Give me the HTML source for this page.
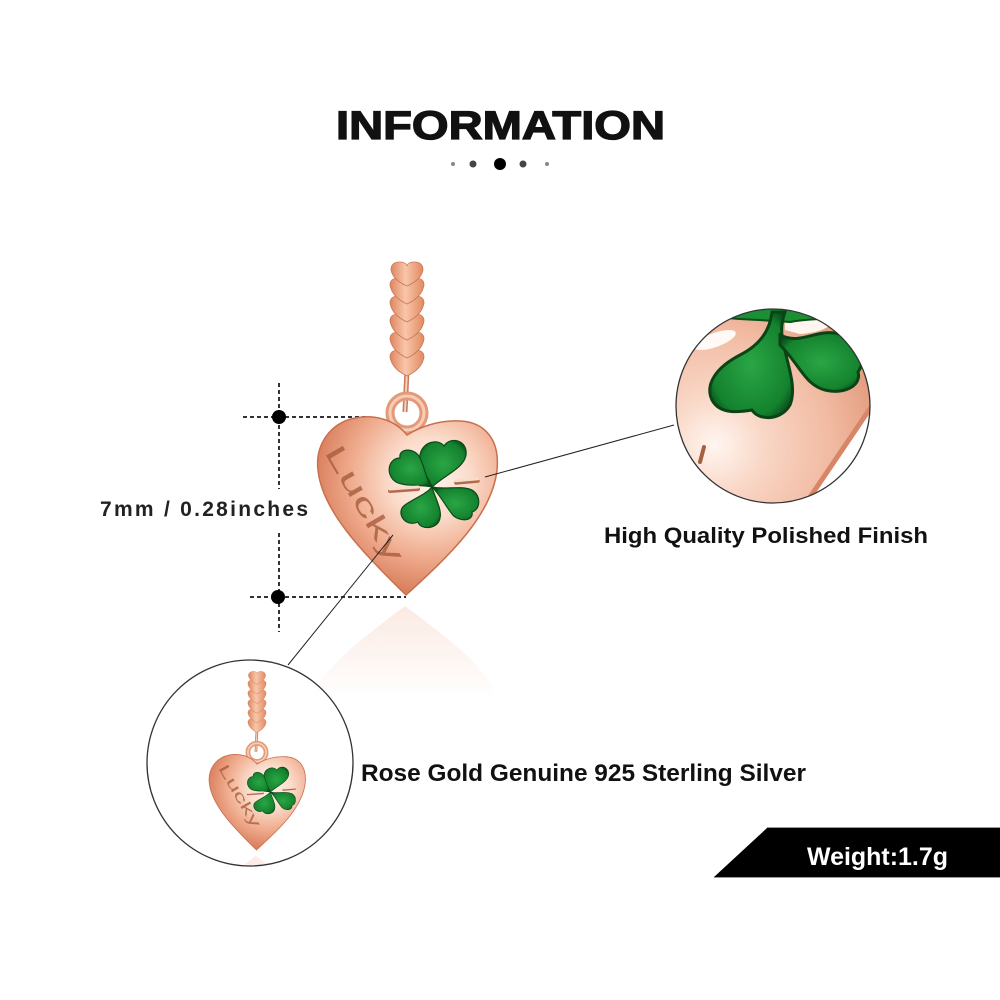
<!DOCTYPE html>
<html><head><meta charset="utf-8"><style>
html,body{margin:0;padding:0;background:#fff;}
svg{display:block;}
</style></head><body>
<svg width="1000" height="1000" viewBox="0 0 1000 1000" xmlns="http://www.w3.org/2000/svg">
<defs>
  <linearGradient id="bead" x1="0" x2="1" y1="0" y2="0">
    <stop offset="0" stop-color="#dd8660"/>
    <stop offset="0.45" stop-color="#f9c6aa"/>
    <stop offset="1" stop-color="#e28a62"/>
  </linearGradient>
  <radialGradient id="heartG" cx="430" cy="478" r="115" gradientUnits="userSpaceOnUse">
    <stop offset="0" stop-color="#fff4ee"/>
    <stop offset="0.35" stop-color="#fbdccb"/>
    <stop offset="0.7" stop-color="#efaa8c"/>
    <stop offset="1" stop-color="#d9805e"/>
  </radialGradient>
  <radialGradient id="leafG" cx="0.5" cy="0.5" r="0.6">
    <stop offset="0" stop-color="#2aa645"/>
    <stop offset="0.8" stop-color="#14822e"/>
    <stop offset="1" stop-color="#0a4f1a"/>
  </radialGradient>
  <linearGradient id="reflG" x1="0" y1="0" x2="0" y2="1">
    <stop offset="0" stop-color="#f3b8a0" stop-opacity="0.3"/>
    <stop offset="1" stop-color="#f3b8a0" stop-opacity="0"/>
  </linearGradient>
  <radialGradient id="zoomG" cx="715" cy="445" r="170" gradientUnits="userSpaceOnUse">
    <stop offset="0" stop-color="#fff6f0"/>
    <stop offset="0.3" stop-color="#f9d6c5"/>
    <stop offset="0.7" stop-color="#f1b9a0"/>
    <stop offset="1" stop-color="#e29a7c"/>
  </radialGradient>
  <clipPath id="clipR"><circle cx="773" cy="406" r="97"/></clipPath>
  <clipPath id="clipL"><circle cx="250" cy="763" r="103"/></clipPath>

  <g id="pendant">
    <path d="M405,606 C450,640 488,668 498,700 L312,700 C322,668 360,640 405,606 Z" fill="url(#reflG)"/>
    <line x1="407" y1="370" x2="405" y2="412" stroke="#c77a58" stroke-width="5"/>
    <line x1="407" y1="370" x2="405" y2="412" stroke="#f6d2c0" stroke-width="2"/>
    <circle cx="407" cy="413" r="17" fill="none" stroke="#e49a78" stroke-width="9"/>
    <circle cx="407" cy="413" r="17" fill="none" stroke="#f8cdb8" stroke-width="3"/>
    <path d="M390,357 Q390,350 399,350 Q406,350 407,355 Q408,350 415,350 Q424,350 424,357 Q422,369 407,376 Q392,369 390,357 Z" fill="url(#bead)" stroke="#c97a56" stroke-width="0.8"/>
    <path d="M390,339 Q390,332 399,332 Q406,332 407,337 Q408,332 415,332 Q424,332 424,339 Q422,351 407,358 Q392,351 390,339 Z" fill="url(#bead)" stroke="#c97a56" stroke-width="0.8"/>
    <path d="M390,321 Q390,314 399,314 Q406,314 407,319 Q408,314 415,314 Q424,314 424,321 Q422,333 407,340 Q392,333 390,321 Z" fill="url(#bead)" stroke="#c97a56" stroke-width="0.8"/>
    <path d="M390,303 Q390,296 399,296 Q406,296 407,301 Q408,296 415,296 Q424,296 424,303 Q422,315 407,322 Q392,315 390,303 Z" fill="url(#bead)" stroke="#c97a56" stroke-width="0.8"/>
    <path d="M390,285 Q390,278 399,278 Q406,278 407,283 Q408,278 415,278 Q424,278 424,285 Q422,297 407,304 Q392,297 390,285 Z" fill="url(#bead)" stroke="#c97a56" stroke-width="0.8"/>
    <path d="M391,270 Q391,262 400,262 Q406,262 407,266 Q408,262 414,262 Q423,262 423,270 Q421,280 407,286 Q393,280 391,270 Z" fill="url(#bead)" stroke="#c97a56" stroke-width="0.8"/>
    <path d="M407,435 C395,420 375,414 355,418 C330,423 315,445 318,470 C322,510 360,550 406,595 C450,555 492,515 497,470 C500,440 485,422 460,421 C437,420 418,428 407,435 Z" fill="url(#heartG)" stroke="#c8704e" stroke-width="1.5"/>
    <g fill="url(#leafG)" stroke="#0b4a18" stroke-width="1.2">
      <path d="M432,487 C428,475 418,468 420,455 C422,442 438,438 444,446 C450,436 468,440 466,455 C464,468 445,475 432,487 Z"/>
      <path d="M432,487 C420,484 405,487 396,482 C385,475 388,458 400,458 C398,448 415,447 420,458 C425,468 426,480 432,487 Z"/>
      <path d="M432,487 C436,500 442,510 440,518 C438,530 420,530 418,522 C405,528 395,512 405,505 C415,498 425,495 432,487 Z"/>
      <path d="M432,487 C445,490 460,485 472,490 C482,496 480,510 472,512 C474,522 458,522 452,514 C445,505 440,495 432,487 Z"/>
    </g>
    <line x1="390" y1="491" x2="418" y2="489" stroke="#b36a4a" stroke-width="4" stroke-linecap="round"/>
    <line x1="390" y1="489" x2="418" y2="487" stroke="#f8dccd" stroke-width="3" stroke-linecap="round"/>
    <line x1="456" y1="483" x2="478" y2="481" stroke="#b36a4a" stroke-width="3.5" stroke-linecap="round"/>
    <line x1="456" y1="481" x2="478" y2="479" stroke="#f8dccd" stroke-width="2.5" stroke-linecap="round"/>
  </g>
</defs>

<text x="336" y="139" font-family="Liberation Sans, Arial, sans-serif" font-weight="bold" font-size="40" fill="#111" stroke="#111" stroke-width="1.3" textLength="329" lengthAdjust="spacingAndGlyphs">INFORMATION</text>
<circle cx="453" cy="164" r="2" fill="#888"/>
<circle cx="473" cy="164" r="3.5" fill="#444"/>
<circle cx="500" cy="164" r="6" fill="#000"/>
<circle cx="523" cy="164" r="3.5" fill="#444"/>
<circle cx="547" cy="164" r="2" fill="#888"/>

<g stroke="#333" stroke-width="2" stroke-dasharray="4,3" fill="none">
  <line x1="279" y1="383" x2="279" y2="489"/>
  <line x1="279" y1="533" x2="279" y2="632"/>
  <line x1="243" y1="417" x2="368" y2="417"/>
  <line x1="250" y1="597" x2="406" y2="597"/>
</g>
<circle cx="279" cy="417" r="7" fill="#000"/>
<circle cx="278" cy="597" r="7" fill="#000"/>
<text x="100" y="516" font-family="Liberation Sans, Arial, sans-serif" font-weight="bold" font-size="21" fill="#222" textLength="208" lengthAdjust="spacing">7mm / 0.28inches</text>

<use href="#pendant"/>
<g transform="translate(324,452) rotate(60)">
  <text x="0" y="0" font-family="Liberation Sans, sans-serif" font-size="28" fill="#a65c3c" fill-opacity="0.8" textLength="130" lengthAdjust="spacingAndGlyphs">Lucky</text>
</g>

<line x1="674" y1="425" x2="485" y2="477" stroke="#222" stroke-width="1"/>
<line x1="393" y1="535" x2="288" y2="665" stroke="#222" stroke-width="1"/>

<g clip-path="url(#clipR)">
  <rect x="670" y="300" width="210" height="210" fill="url(#zoomG)"/>
  <ellipse cx="715" cy="340" rx="22" ry="7" fill="#fffaf6" transform="rotate(-20 715 340)"/>
  <path d="M785,312 L830,312 C840,320 830,332 800,334 L785,330 Z" fill="#fff6f0"/>
  <path d="M725,300 L870,300 L860,314 C830,320 810,318 790,322 C770,320 745,320 728,318 Z" fill="#1a8f34" stroke="#0b4f1a" stroke-width="2"/>
  <path d="M772,312 C770,330 760,345 740,355 C715,368 705,385 712,400 C720,415 740,412 752,410 C758,420 780,422 790,405 C798,385 785,360 782,335 C781,325 783,318 785,312 Z" fill="url(#leafG)" stroke="#0a4416" stroke-width="3"/>
  <path d="M780,335 C800,345 815,330 835,333 C855,336 870,355 858,372 C862,385 845,395 825,390 C805,385 800,365 780,345 Z" fill="url(#leafG)" stroke="#0a4416" stroke-width="3"/>
  <path d="M884,388 L800,512 L900,512 L900,388 Z" fill="#fff"/>
  <line x1="884" y1="388" x2="800" y2="512" stroke="#d78667" stroke-width="5"/>
  <line x1="700" y1="462" x2="704" y2="447" stroke="#a5603f" stroke-width="4" stroke-linecap="round"/>
</g>
<circle cx="773" cy="406" r="97" fill="none" stroke="#333" stroke-width="1.3"/>
<text x="604" y="543" font-family="Liberation Sans, Arial, sans-serif" font-weight="bold" font-size="22" fill="#111" textLength="324" lengthAdjust="spacingAndGlyphs">High Quality Polished Finish</text>

<g clip-path="url(#clipL)">
  <g transform="translate(257,672) scale(0.536) translate(-407,-263)">
    <use href="#pendant"/>
  </g>
  <g transform="translate(218,768) rotate(60)">
    <text x="0" y="0" font-family="Liberation Sans, sans-serif" font-size="15" fill="#a65c3c" fill-opacity="0.8" textLength="70" lengthAdjust="spacingAndGlyphs">Lucky</text>
  </g>
</g>
<circle cx="250" cy="763" r="103" fill="none" stroke="#333" stroke-width="1.3"/>
<text x="361" y="781" font-family="Liberation Sans, Arial, sans-serif" font-weight="bold" font-size="24" fill="#111" textLength="445" lengthAdjust="spacingAndGlyphs">Rose Gold Genuine 925 Sterling Silver</text>

<line x1="767" y1="827.5" x2="1000" y2="827.5" stroke="#999" stroke-width="1"/>
<polygon points="714,877 767,828 1000,828 1000,877" fill="#000"/>
<line x1="714" y1="877.5" x2="1000" y2="877.5" stroke="#999" stroke-width="1"/>
<text x="807" y="865" font-family="Liberation Sans, Arial, sans-serif" font-weight="bold" font-size="25" fill="#fff" textLength="141" lengthAdjust="spacingAndGlyphs">Weight:1.7g</text>
</svg>
</body></html>
